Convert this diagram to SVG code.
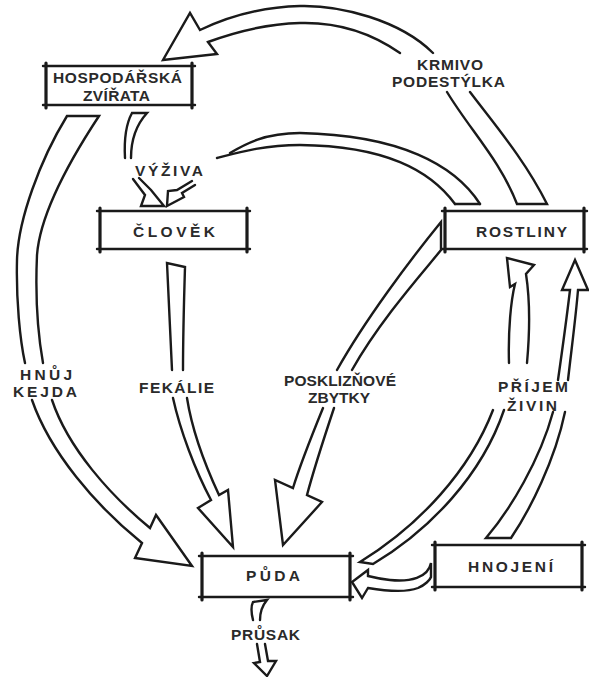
<svg xmlns="http://www.w3.org/2000/svg" width="589" height="677" viewBox="0 0 589 677">
  <style>
    .bg { fill: #ffffff; }
    .box { fill: #ffffff; stroke: none; }
    .edge-h { stroke: #1a1a1a; stroke-width: 2.4; fill: none; stroke-linecap: round; }
    .edge-v { stroke: #1a1a1a; stroke-width: 3.2; fill: none; stroke-linecap: round; }
    .flow { fill: #ffffff; stroke: #1a1a1a; stroke-width: 2.4; stroke-linejoin: miter; stroke-miterlimit: 6; stroke-linecap: round; }
    .line { fill: none; stroke: #1a1a1a; stroke-width: 2.4; stroke-linecap: round; }
    .lbl { font-family: "Liberation Sans", Arial, sans-serif; font-weight: bold; font-size: 15.5px; fill: #2a2a2a; }
  </style>

  <rect class="bg" x="0" y="0" width="589" height="677"/>

  <!-- connectors: hollow double-line arrows -->
  <g id="connectors">
    <!-- feed / bedding: plants -> livestock -->
    <g id="c-krmivo">
      <path class="flow" d="M447,92 C470,130 500,160 517,204 L547,204 C525,160 495,125 470,92"/>
      <path class="flow" d="M433,53 C400,20 340,5 300,6 C260,7 225,18 200,30 L190,13 L163,60 L217,54 L208,42 C235,32 265,24 300,23 C335,22 370,32 400,53"/>
    </g>

    <!-- nutrition: plants -> people -->
    <g id="c-vyziva-rostliny">
      <path class="line" d="M480,204 C455,165 400,135 300,133 C265,133 245,144 230,153"/>
      <path class="line" d="M455,204 C430,170 385,146 300,145 C265,145 240,152 217,158"/>
      <path class="line" d="M455,204 L480,204"/>
      <path class="flow" d="M192,181 L177,190 L168,191 L167,206 L184,197 L182,193 L195,185"/>
    </g>

    <!-- nutrition: livestock -> people -->
    <g id="c-vyziva-zvirata">
      <path class="flow" d="M125,158 C124,140 126,124 132,113 L147,113 C137,124 131,140 131,158"/>
      <path class="flow" d="M133,179 L145,195 L141,206 L164,206 L151,190 L139,178"/>
    </g>

    <!-- manure / slurry: livestock -> soil -->
    <g id="c-hnuj">
      <path class="flow" d="M25,363 C20,340 16,300 17,260 C18,220 40,160 67,116 L99,116 C70,160 40,215 37,255 C35,300 38,335 43,363"/>
      <path class="flow" d="M32,400 C50,452 95,505 142,543 L135,558 L192,566 L156,515 L150,528 C110,495 68,448 52,400"/>
    </g>

    <!-- faeces: people -> soil -->
    <g id="c-fekalie">
      <path class="flow" d="M172,370 C170,330 168,290 167,263 L185,267 C184,300 183,340 183,370"/>
      <path class="flow" d="M173,398 C180,430 195,470 211,500 L198,508 L233,547 L228,490 L219,495 C205,465 192,430 187,398"/>
    </g>

    <!-- crop residues: plants -> soil -->
    <g id="c-posklizne">
      <path class="flow" d="M337,370 C365,320 410,260 441,222 L441,250 C425,270 380,320 352,370"/>
      <path class="flow" d="M323,408 C312,435 300,465 293,488 L275,480 L283,545 L322,502 L307,495 C315,465 325,435 334,408"/>
    </g>

    <!-- nutrient uptake: soil -> plants -->
    <g id="c-prijem">
      <path class="flow" d="M509,363 C508,330 511,300 515,284 L510,287 L507,258 L534,265 L526,274 C530,300 530,330 527,363"/>
      <path class="flow" d="M493,410 C470,470 420,525 360,562 L373,564 C430,530 482,475 504,410"/>
    </g>

    <!-- fertilising -> plants -->
    <g id="c-hnojeni-rostliny">
      <path class="flow" d="M553,412 C540,460 510,510 486,538 L511,538 C530,510 555,460 565,412"/>
      <path class="flow" d="M558,380 C563,345 567,315 570,290 L562,290 L575,260 L588,290 L578,290 C576,315 572,345 568,380"/>
    </g>

    <!-- fertilising -> soil -->
    <g id="c-hnojeni-puda">
      <path class="flow" d="M431,563 C428,578 410,582 390,580 C380,579 372,577 368,576 L368,570 L352,582 L362,598 L368,588 C380,590 405,593 418,588 C425,585 430,580 431,577 Z"/>
    </g>

    <!-- leachate: soil -> below -->
    <g id="c-prusak">
      <path class="flow" d="M253,620 C251,612 251,606 253,602 L267,600 C262,606 260,612 260,620"/>
      <path class="flow" d="M257,644 L260,662 L254,663 L267,676 L276,661 L268,661 L265,644"/>
    </g>
  </g>

  <!-- nodes -->
  <g id="hospodarska-zvirata">
    <rect class="box" x="46" y="66" width="146" height="39"/>
    <path class="edge-h" d="M43,66 L195,66 M43,105 L195,105"/>
    <path class="edge-v" d="M46,63 L46,108 M192,63 L192,108"/>
    <text class="lbl" x="53" y="83" font-size="13" textLength="129" lengthAdjust="spacing">HOSPODÁŘSKÁ</text>
    <text class="lbl" x="83" y="101" font-size="13" textLength="67" lengthAdjust="spacing">ZVÍŘATA</text>
  </g>

  <g id="clovek">
    <rect class="box" x="100" y="211" width="147" height="38"/>
    <path class="edge-h" d="M97,211 L250,211 M97,249 L250,249"/>
    <path class="edge-v" d="M100,208 L100,252 M247,208 L247,252"/>
    <text class="lbl" x="133" y="237" textLength="82" lengthAdjust="spacing">ČLOVĚK</text>
  </g>

  <g id="rostliny">
    <rect class="box" x="445" y="211" width="139" height="38"/>
    <path class="edge-h" d="M442,211 L587,211 M442,249 L587,249"/>
    <path class="edge-v" d="M445,208 L445,252 M584,208 L584,252"/>
    <text class="lbl" x="476" y="237" textLength="91" lengthAdjust="spacing">ROSTLINY</text>
  </g>

  <g id="puda">
    <rect class="box" x="202" y="556" width="148" height="41"/>
    <path class="edge-h" d="M199,556 L353,556 M199,597 L353,597"/>
    <path class="edge-v" d="M202,553 L202,600 M350,553 L350,600"/>
    <text class="lbl" x="246" y="581" textLength="54" lengthAdjust="spacing">PŮDA</text>
  </g>

  <g id="hnojeni">
    <rect class="box" x="435" y="545" width="147" height="42"/>
    <path class="edge-h" d="M432,545 L585,545 M432,587 L585,587"/>
    <path class="edge-v" d="M435,542 L435,590 M582,542 L582,590"/>
    <text class="lbl" x="468" y="572" textLength="85" lengthAdjust="spacing">HNOJENÍ</text>
  </g>

  <!-- connector labels -->
  <g id="labels">
    <text class="lbl" x="417" y="70" textLength="66" lengthAdjust="spacing">KRMIVO</text>
    <text class="lbl" x="392" y="87" textLength="113" lengthAdjust="spacing">PODESTÝLKA</text>
    <text class="lbl" x="135" y="176" textLength="68" lengthAdjust="spacing">VÝŽIVA</text>
    <text class="lbl" x="20" y="380" textLength="52" lengthAdjust="spacing">HNŮJ</text>
    <text class="lbl" x="13" y="397" textLength="64" lengthAdjust="spacing">KEJDA</text>
    <text class="lbl" x="139" y="393" textLength="75" lengthAdjust="spacing">FEKÁLIE</text>
    <text class="lbl" x="284" y="386" textLength="112" lengthAdjust="spacing">POSKLIZŇOVÉ</text>
    <text class="lbl" x="308" y="403" textLength="62" lengthAdjust="spacing">ZBYTKY</text>
    <text class="lbl" x="498" y="392" textLength="70" lengthAdjust="spacing">PŘÍJEM</text>
    <text class="lbl" x="507" y="411" textLength="50" lengthAdjust="spacing">ŽIVIN</text>
    <text class="lbl" x="231" y="640" textLength="69" lengthAdjust="spacing">PRŮSAK</text>
  </g>
</svg>
